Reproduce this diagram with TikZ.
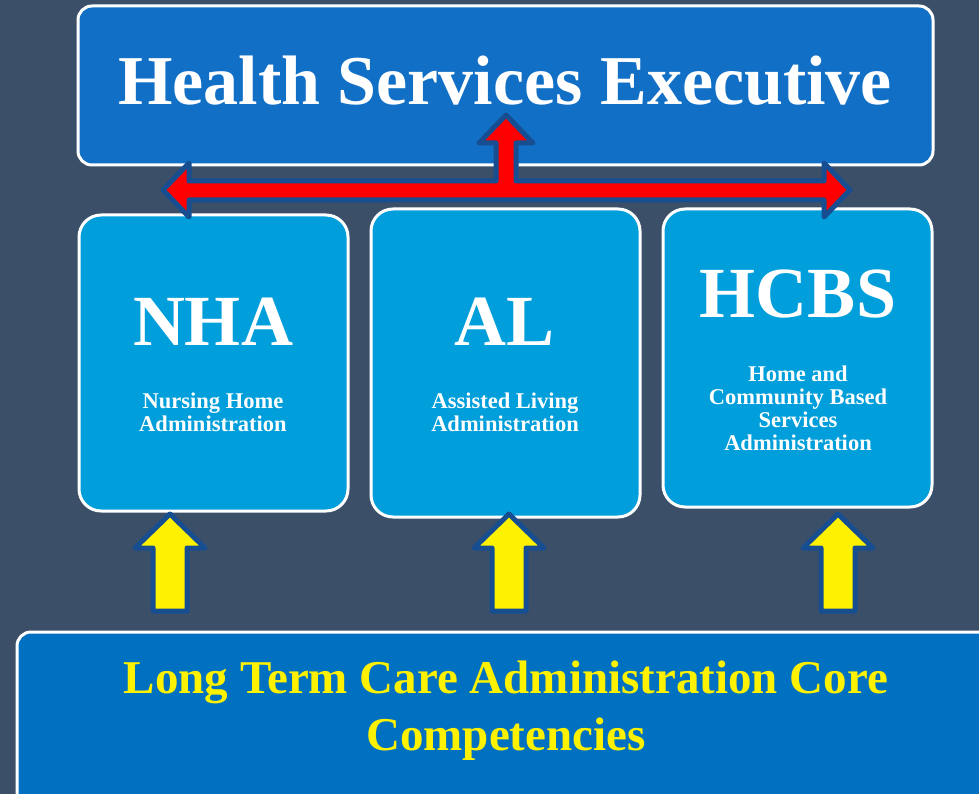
\documentclass[tikz,border=0pt]{standalone}
\usepackage{fontspec}
\setmainfont{Liberation Serif}
\usetikzlibrary{calc}
\definecolor{slate}{RGB}{59,80,104}
\definecolor{hseblue}{RGB}{17,112,198}
\definecolor{boxblue}{RGB}{0,158,218}
\definecolor{baseblue}{RGB}{0,112,192}
\definecolor{edgeblue}{RGB}{22,78,145}
\tikzstyle{topRec} = [rectangle, rounded corners=14pt, draw=white, line width=3pt, fill=hseblue, minimum width=855pt, minimum height=159pt]
\tikzstyle{midRec} = [rectangle, rounded corners=22pt, draw=white, line width=3pt, fill=boxblue, minimum width=269pt]
\tikzstyle{baseRec} = [rectangle, rounded corners=14pt, draw=white, line width=3pt, fill=baseblue, minimum width=993pt, minimum height=198pt]
\tikzstyle{bigText} = [text=white, font=\bfseries\fontsize{72}{74}\selectfont]
\tikzstyle{smallText} = [text=white, align=center, font=\bfseries\fontsize{22.5}{23}\selectfont]
\tikzstyle{blockArrow} = [draw=edgeblue, line width=5pt, line join=round]

\begin{document}
\begin{tikzpicture}[x=1pt, y=-1pt]
		\useasboundingbox (0,0) rectangle (979,794);
		\fill [slate] (0,0) rectangle (979,794);
		\clip (0,0) rectangle (979,794);
		% top box
		\node (hse) [topRec] at (505.5,85.5) {};
		\node (hsetext) [text=white, font=\bfseries\fontsize{70}{72}\selectfont] at (505,81) {Health Services Executive};
		% middle boxes
		\node (nha) [midRec, minimum height=296pt] at (213.5,363) {};
		\node (al) [midRec, minimum height=308pt] at (505.5,363) {};
		\node (hcbs) [midRec, minimum height=298pt] at (797.5,358) {};
		\node (nhatext) [bigText] at (213,322) {NHA};
		\node (altext) [bigText] at (505,322) {AL};
		\node (hcbstext) [bigText] at (798,294) {HCBS};
		\node (nhasub) [smallText] at (213,412) {Nursing Home\\Administration};
		\node (alsub) [smallText] at (505,412) {Assisted Living\\Administration};
		\node (hcbssub) [smallText] at (798,408) {Home and\\Community Based\\Services\\Administration};
		% bottom box
		\node (core) [baseRec] at (513.5,731) {};
		\node (coretext) [text=yellow, align=center, font=\bfseries\fontsize{47}{57}\selectfont] at (506,711) {Long Term Care Administration Core\\Competencies};
		% red arrow
		\draw [blockArrow, fill=red] (163,190) -- (189,163) -- (189,181) -- (496,181) -- (496,143) -- (479,143)
			-- (506,115) -- (533,143) -- (516,143) -- (516,181) -- (824,181) -- (824,163) -- (850,190)
			-- (824,217) -- (824,200) -- (189,200) -- (189,217) -- cycle;
		% yellow arrows
		\foreach \c in {170,509,838}
			\draw [blockArrow, fill=yellow] (\c,514) -- (\c+35,548) -- (\c+17,548) -- (\c+17,611)
				-- (\c-17,611) -- (\c-17,548) -- (\c-35,548) -- cycle;
	\end{tikzpicture}
\end{document}
